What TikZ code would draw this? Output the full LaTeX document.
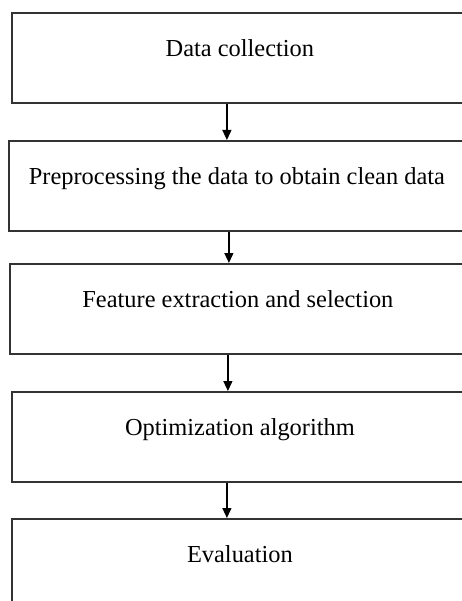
\documentclass[tikz,border=0pt]{standalone}
\usepackage{fontspec}
\setmainfont{Liberation Serif}
\usetikzlibrary{arrows.meta}

\begin{document}
\begin{tikzpicture}[x=1pt,y=-1pt,
  stagebox/.style={draw=black!80,line width=1.8pt,anchor=north west,
    minimum width=456pt,inner xsep=0pt,inner ysep=0pt,
    text height=44pt,text depth=46pt,font=\fontsize{24.4}{29}\selectfont},
  flow/.style={line width=1.2pt,-{Triangle[length=10pt,width=9pt]}}]
\useasboundingbox (0,0) rectangle (462,601);
\clip (0,0) rectangle (462,601);
\node[stagebox] (collect) at (11,12) {Data collection};
\node[stagebox] (clean) at (8,140) {Preprocessing the data to obtain clean data};
\node[stagebox] (select) at (9,263) {Feature extraction and selection};
\node[stagebox] (optim) at (11,391) {Optimization algorithm};
\node[stagebox] (eval) at (11,518) {Evaluation};
\draw[flow] ([xshift=-13pt]collect.south) -- ([xshift=-13pt]collect.south |- clean.north);
\draw[flow] ([xshift=-8pt]clean.south) -- ([xshift=-8pt]clean.south |- select.north);
\draw[flow] ([xshift=-10pt]select.south) -- ([xshift=-10pt]select.south |- optim.north);
\draw[flow] ([xshift=-13pt]optim.south) -- ([xshift=-13pt]optim.south |- eval.north);
\end{tikzpicture}
\end{document}
